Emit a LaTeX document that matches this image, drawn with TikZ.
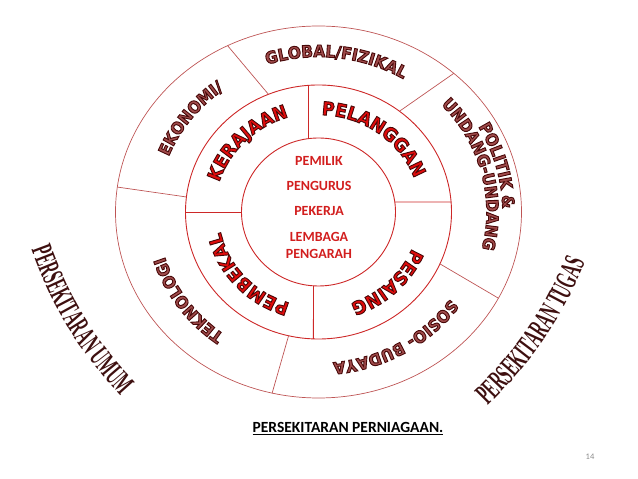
\documentclass[tikz,border=0pt]{standalone}
\usepackage{fontspec}
\setmainfont{Carlito}
\newfontfamily\artfont[FakeStretch=0.93]{DejaVu Sans}
\newfontfamily\tallfont[FakeStretch=0.5]{Liberation Serif}
\definecolor{ringred}{RGB}{205, 40, 40}
\definecolor{ringbrown}{RGB}{190, 85, 85}
\definecolor{wordred}{RGB}{225, 12, 12}
\definecolor{wordbrown}{RGB}{160, 75, 75}
\definecolor{listred}{RGB}{210, 30, 30}
\definecolor{tallink}{RGB}{62, 16, 16}
\usetikzlibrary{
  positioning,
  decorations.text,
}
\newcommand\outlined{\special{pdf:literal direct 2 Tr 0.9 w 0.28 0.03 0.03 RG}}
\newcommand\midfmt{\artfont\bfseries\fontsize{18.5}{18.5}\selectfont\color{wordred}\outlined}
\newcommand\outfmt{\artfont\bfseries\fontsize{16.5}{16.5}\selectfont\color{wordbrown}\outlined}
\newcommand\tallfmt{\tallfont\bfseries\fontsize{30}{30}\selectfont\color{tallink}}
\tikzset{
  outerline/.style={draw=ringbrown, line width=0.7pt},
  innerline/.style={draw=ringred, line width=0.9pt},
  listtext/.style={font=\bfseries\fontsize{14}{14}\selectfont, text=listred, inner sep=0pt, text height=9pt, text depth=0pt},
  arctext/.style={decorate, decoration={text along path, text align=center, text={#1}}},
}

\begin{document}
\begin{tikzpicture}[x=1pt, y=1pt, node distance=16pt]
  \useasboundingbox (0,0) rectangle (638,479);
  \coordinate (c) at (318.5,267);

  % rings
  \draw[outerline] (c) ellipse[x radius=203, y radius=186];
  \draw[innerline] (c) ellipse[x radius=133, y radius=127];
  \draw[innerline] (c) ellipse[x radius=77, y radius=74];

  % outer ring dividers
  \draw[outerline] ([shift={(c)}]116.6:203 and 186) -- ([shift={(c)}]112.1:133 and 127);
  \draw[outerline] ([shift={(c)}]48.2:203 and 186) -- ([shift={(c)}]52.5:133 and 127);
  \draw[outerline] ([shift={(c)}]-27.6:203 and 186) -- ([shift={(c)}]-24.1:133 and 127);
  \draw[outerline] ([shift={(c)}]-103.2:203 and 186) -- ([shift={(c)}]-103:133 and 127);
  \draw[outerline] ([shift={(c)}]172.3:203 and 186) -- ([shift={(c)}]173.2:133 and 127);

  % middle ring dividers
  \draw[innerline] ([shift={(c)}]97.5:77 and 74) -- ([shift={(c)}]94.3:133 and 127);
  \draw[innerline] ([shift={(c)}]7.8:77 and 74) -- ([shift={(c)}]4.5:133 and 127);
  \draw[innerline] ([shift={(c)}]-93.7:77 and 74) -- ([shift={(c)}]-92.2:133 and 127);
  \draw[innerline] ([shift={(c)}]180:77 and 74) -- ([shift={(c)}]180:133 and 127);

  % middle ring words
  \path[arctext={|\midfmt|KERAJAAN}] (c) ++(180:104 and 99) arc[start angle=180, end angle=90, x radius=104, y radius=99];
  \path[arctext={|\midfmt|PELANGGAN}] (c) ++(99:102 and 97) arc[start angle=99, end angle=9, x radius=102, y radius=97];
  \path[arctext={|\midfmt|PESAING}] (c) ++(-1.5:101 and 96) arc[start angle=-1.5, end angle=-91.5, x radius=101, y radius=96];
  \path[arctext={|\midfmt|PEMBEKAL}] (c) ++(-92.5:100 and 95) arc[start angle=-92.5, end angle=-182.5, x radius=100, y radius=95];

  % outer ring words
  \path[arctext={|\outfmt|EKONOMI/}] (c) ++(188:161 and 151) arc[start angle=188, end angle=98, x radius=161, y radius=151];
  \path[arctext={|\outfmt|GLOBAL/FIZIKAL}] (c) ++(128.5:165 and 155) arc[start angle=128.5, end angle=38.5, x radius=165, y radius=155];
  \path[arctext={|\outfmt|POLITIK {\&}}] (c) ++(60:184 and 172) arc[start angle=60, end angle=-30, x radius=184, y radius=172];
  \path[arctext={|\outfmt|UNDANG-UNDANG}] (c) ++(59.5:168 and 157) arc[start angle=59.5, end angle=-30.5, x radius=168, y radius=157];
  \path[arctext={|\outfmt|SOSIO- BUDAYA}] (c) ++(-14.5:161 and 151) arc[start angle=-14.5, end angle=-104.5, x radius=161, y radius=151];
  \path[arctext={|\outfmt|TEKNOLOGI}] (c) ++(-100:161 and 151) arc[start angle=-100, end angle=-190, x radius=161, y radius=151];

  % centre list
  \node[listtext] (pemilik) at (319,318.3) {PEMILIK};
  \node[listtext, below=of pemilik] (pengurus) {PENGURUS};
  \node[listtext, below=of pengurus] (pekerja) {PEKERJA};
  \node[listtext, below=of pekerja] (lembaga) {LEMBAGA};
  \node[listtext, below=7.5pt of lembaga] (pengarah) {PENGARAH};

  % tall side words
  \path[arctext={|\tallfmt|PERSEKITARAN UMUM}] (27.3,240.8) to[bend right=12] (128.7,74.2);
  \path[arctext={|\tallfmt|PERSEKITARAN TUGAS}] (478.8,64.8) to[bend right=12] (589.8,228);

  % caption and page number
  \node[anchor=base, font=\bfseries\fontsize{15.5}{15.5}\selectfont] (caption) at (348,46) {\underline{PERSEKITARAN PERNIAGAAN.}};
  \node[font=\fontsize{8.5}{8.5}\selectfont, text=black!45] (pagenum) at (590,22) {14};
\end{tikzpicture}
\end{document}
